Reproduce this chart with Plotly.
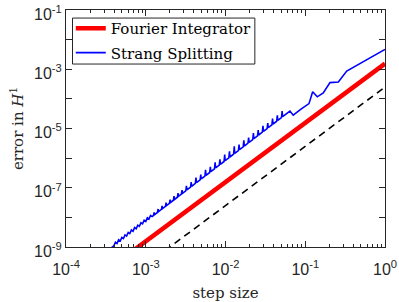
import plotly.graph_objects as go
import numpy as np

# Fourier integrator (straight line, slope 2)
fourier_step = [3.0e-4, 1.0]
fourier_err = [1.4e-10, 1.55e-3]

# reference slope-2 line (dashed)
ref_step = [1.0e-3, 1.0]
ref_err = [2.5e-10, 2.5e-4]

# Strang splitting as log10 values (step size, error)
strang_log_step = [
    0.0, -0.301, -0.48, -0.585, -0.69, -0.774, -0.849, -0.907, -0.953, -1.045, -1.151, -1.192, -1.233,
    -1.284, -1.29, -1.298, -1.344, -1.35, -1.358, -1.404, -1.41, -1.418, -1.464, -1.47, -1.478,
    -1.524, -1.53, -1.538, -1.584, -1.59, -1.598, -1.644, -1.65, -1.658, -1.704, -1.71, -1.718,
    -1.764, -1.77, -1.778, -1.824, -1.83, -1.838, -1.884, -1.89, -1.898, -1.944, -1.95, -1.958,
    -2.004, -2.01, -2.018, -2.064, -2.07, -2.078, -2.124, -2.13, -2.138, -2.184, -2.19, -2.198,
    -2.244, -2.25, -2.258, -2.304, -2.31, -2.318, -2.364, -2.37, -2.378, -2.424, -2.43, -2.438,
    -2.484, -2.49, -2.498, -2.539, -2.545, -2.553, -2.589, -2.595, -2.603, -2.639, -2.645, -2.653,
    -2.689, -2.695, -2.703, -2.739, -2.745, -2.753, -2.789, -2.795, -2.803, -2.839, -2.845, -2.853,
    -2.889, -2.895, -2.903,
    -2.92, -2.94, -2.96, -2.98, -3.00, -3.02, -3.04, -3.06, -3.08, -3.10, -3.12, -3.14, -3.16, -3.18,
    -3.20, -3.22, -3.24, -3.26, -3.28, -3.30, -3.32, -3.34, -3.36, -3.38, -3.40, -3.42, -3.46,
]
strang_log_err = [
    -2.33, -2.788, -3.06, -3.43, -3.45, -3.80, -3.93, -3.76, -4.16, -4.33, -4.55, -4.41, -4.495,
    -4.602, -4.414, -4.630, -4.726, -4.558, -4.754, -4.850, -4.662, -4.878, -4.973, -4.815, -5.001,
    -5.097, -4.909, -5.125, -5.220, -5.052, -5.248, -5.344, -5.156, -5.372, -5.468, -5.310, -5.496,
    -5.591, -5.403, -5.619, -5.715, -5.547, -5.743, -5.838, -5.600, -5.866, -5.962, -5.774, -5.990,
    -6.086, -5.878, -6.114, -6.209, -6.041, -6.237, -6.333, -6.145, -6.361, -6.456, -6.298, -6.484,
    -6.580, -6.392, -6.608, -6.704, -6.556, -6.732, -6.827, -6.659, -6.855, -6.951, -6.813, -6.979,
    -7.074, -6.936, -7.102, -7.188, -7.080, -7.216, -7.291, -7.183, -7.319, -7.394, -7.286, -7.422,
    -7.497, -7.399, -7.525, -7.600, -7.502, -7.628, -7.703, -7.615, -7.731, -7.806, -7.718, -7.834,
    -7.909, -7.831, -7.937,
    -7.972, -7.933, -8.055, -8.016, -8.137, -8.098, -8.219, -8.181, -8.302, -8.263, -8.384, -8.345, -8.467, -8.428,
    -8.549, -8.51, -8.631, -8.593, -8.714, -8.675, -8.796, -8.757, -8.879, -8.84, -8.961, -9.002, -9.085,
]
strang_step = (10.0 ** np.array(strang_log_step)).tolist()
strang_err = (10.0 ** np.array(strang_log_err)).tolist()

x_tick_vals = [1e-4, 1e-3, 1e-2, 1e-1, 1e0]
x_tick_text = ["10<sup>-4</sup>", "10<sup>-3</sup>", "10<sup>-2</sup>", "10<sup>-1</sup>", "10<sup>0</sup>"]
y_tick_vals = [1e-9, 1e-8, 1e-7, 1e-6, 1e-5, 1e-4, 1e-3, 1e-2, 1e-1]
y_tick_text = ["10<sup>-9</sup>", "", "10<sup>-7</sup>", "", "10<sup>-5</sup>", "", "10<sup>-3</sup>", "", "10<sup>-1</sup>"]

serif = "DejaVu Serif"
sans = "Liberation Sans"
axis_col = "#262626"

fig = go.Figure()
fig.add_trace(go.Scatter(x=fourier_step, y=fourier_err, mode="lines", name="Fourier Integrator",
                         legendgroup="a", line=dict(color="#ff0000", width=4.5)))
fig.add_trace(go.Scatter(x=strang_step, y=strang_err, mode="lines", name="Strang Splitting",
                         legendgroup="b", line=dict(color="#0000ff", width=1.6)))
fig.add_trace(go.Scatter(x=ref_step, y=ref_err, mode="lines", showlegend=False,
                         line=dict(color="#000000", width=1.6, dash="7px,5px")))

minor_x = [m * 10.0 ** e for e in range(-4, 0) for m in range(2, 10)]

fig.update_layout(
    width=399, height=302,
    margin=dict(l=66, r=14, t=10, b=55, autoexpand=False),
    paper_bgcolor="white", plot_bgcolor="white",
    showlegend=True,
    # legend frame drawn as a shape so its size matches the original box
    shapes=[dict(type="rect", xref="paper", yref="paper", x0=0.0204, x1=0.592, y0=0.772, y1=0.966,
                 line=dict(color=axis_col, width=1), fillcolor="white", layer="above")],
    legend=dict(x=0.015, y=0.992, xanchor="left", yanchor="top",
                bgcolor="rgba(0,0,0,0)", borderwidth=0,
                font=dict(family=serif, size=15, color="black"),
                traceorder="grouped", tracegroupgap=2, itemwidth=30),
    xaxis=dict(type="log", range=[-4, 0], tickvals=x_tick_vals, ticktext=x_tick_text,
               automargin=False, ticklabeloverflow="allow", ticklabelstandoff=8,
               ticks="inside", ticklen=6, tickwidth=1, tickcolor=axis_col,
               showline=True, linecolor=axis_col, linewidth=1, mirror="allticks",
               showgrid=False, zeroline=False,
               tickfont=dict(family=sans, size=16, color=axis_col),
               minor=dict(tickvals=minor_x, ticks="inside", ticklen=3, tickcolor=axis_col, showgrid=False),
               title=dict(text="step size", font=dict(family=serif, size=15, color=axis_col), standoff=15)),
    yaxis=dict(type="log", range=[-9, -1], tickvals=y_tick_vals, ticktext=y_tick_text,
               automargin=False, ticklabeloverflow="allow", ticklabelshift=4,
               ticks="inside", ticklen=6, tickwidth=1, tickcolor=axis_col,
               showline=True, linecolor=axis_col, linewidth=1, mirror="allticks",
               showgrid=False, zeroline=False,
               tickfont=dict(family=sans, size=16, color=axis_col),
               title=dict(text="error in <i>H</i><sup>1</sup>", font=dict(family=serif, size=15, color=axis_col), standoff=6)),
)

fig.write_html("out.html", config={"displayModeBar": False},
               post_script="document.body.style.margin='0px';")
